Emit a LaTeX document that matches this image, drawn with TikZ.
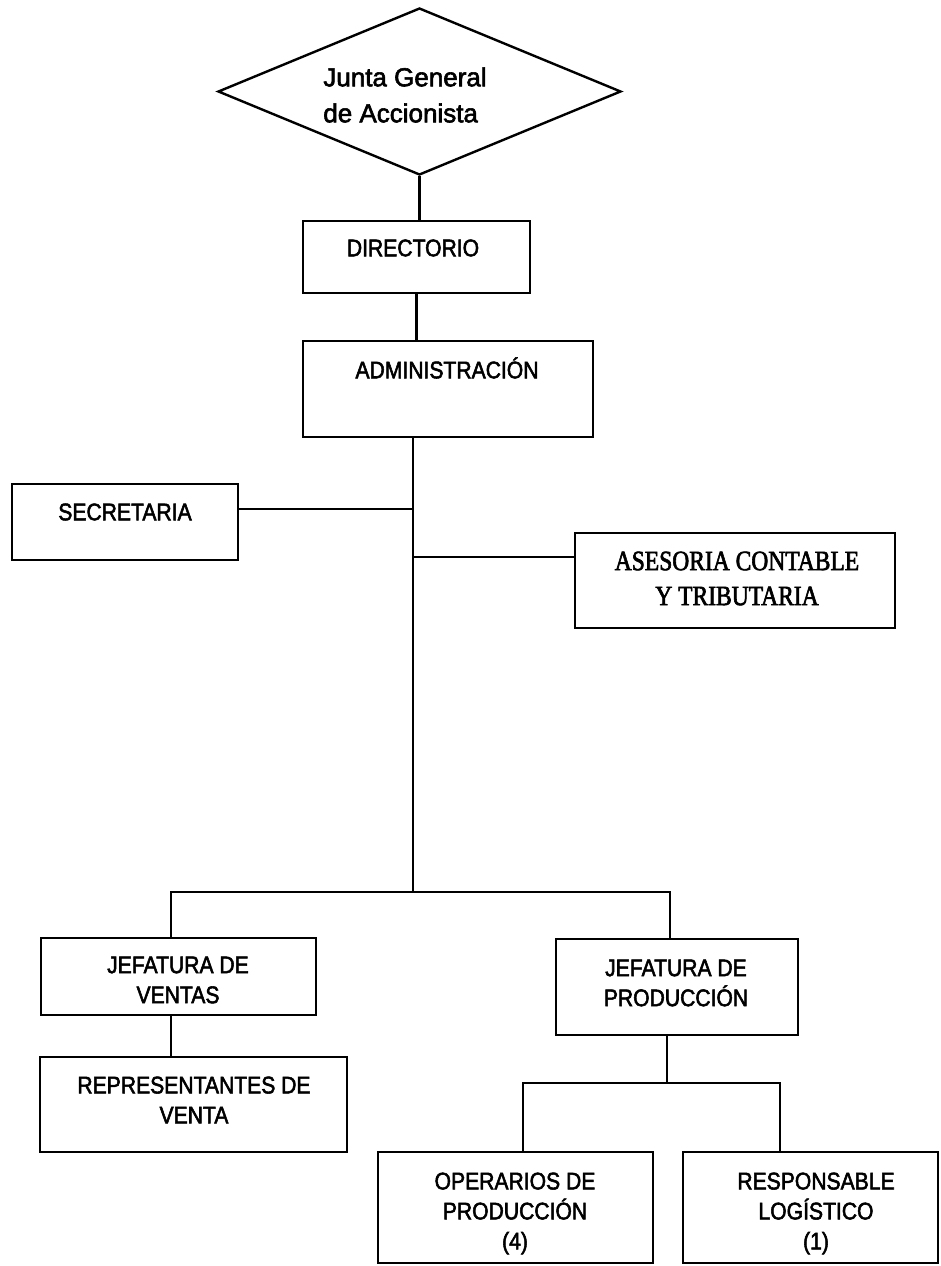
\documentclass[tikz,border=0pt]{standalone}
\usepackage{fontspec}
\setmainfont{Liberation Sans}
\newfontfamily\plainsans[RawFeature={embolden=2.2}]{Liberation Sans}
\newfontfamily\condsans[FakeStretch=0.88,RawFeature={embolden=2.2}]{Liberation Sans}
\newfontfamily\condserif[FakeStretch=0.84,RawFeature={embolden=2.2}]{Liberation Serif}
\usetikzlibrary{shapes.geometric}
\begin{document}
\begin{tikzpicture}[x=1pt,y=-1pt,
  box/.style={draw, line width=2.8pt, rectangle, inner sep=0pt},
  lbl/.style={font=\condsans\fontsize{24}{30}\selectfont, align=center, inner sep=0pt},
  conn/.style={line width=2.6pt}]
\useasboundingbox[fill=white] (0,0) rectangle (941,1266);

% shapes
\node[draw, diamond, line width=2.4pt, inner sep=0pt, minimum width=403pt, minimum height=167pt] (jga) at (419.5,91.5) {};
\node[box, minimum width=227pt, minimum height=72pt] (dir) at (416.5,257) {};
\node[box, minimum width=290pt, minimum height=96pt] (adm) at (448,389) {};
\node[box, minimum width=226pt, minimum height=76pt] (sec) at (125,522) {};
\node[box, minimum width=320pt, minimum height=95pt] (ase) at (735,580.5) {};
\node[box, minimum width=275pt, minimum height=77pt] (jv) at (178.5,976.5) {};
\node[box, minimum width=242pt, minimum height=96pt] (jp) at (677,987) {};
\node[box, minimum width=307pt, minimum height=95pt] (rep) at (193.5,1104.5) {};
\node[box, minimum width=275pt, minimum height=111pt] (op) at (515.5,1207.5) {};
\node[box, minimum width=255pt, minimum height=111pt] (rl) at (810.5,1207.5) {};

% texts
\node[font=\plainsans\fontsize{26}{36}\selectfont, align=left, inner sep=0pt] (tjga) at (405,95) {Junta General\\de Accionista};
\node[lbl] (tdir) at (413,248) {DIRECTORIO};
\node[lbl] (tadm) at (447,368) {ADMINISTRACIÓN};
\node[lbl] (tsec) at (125,512) {SECRETARIA};
\node[font=\condserif\fontsize{28}{35}\selectfont, align=center, inner sep=0pt] (tase) at (737,578.5) {ASESORIA CONTABLE\\Y TRIBUTARIA};
\node[lbl] (tjv) at (178,980) {JEFATURA DE\\VENTAS};
\node[lbl] (tjp) at (676,983) {JEFATURA DE\\PRODUCCIÓN};
\node[lbl] (trep) at (194,1100) {REPRESENTANTES DE\\VENTA};
\node[lbl, text depth=0pt] (top) at (515,1211) {OPERARIOS DE\\PRODUCCIÓN\\(4)};
\node[lbl, text depth=0pt] (trl) at (816,1211) {RESPONSABLE\\LOGÍSTICO\\(1)};

% junction coordinates
\coordinate (b1) at (413,892);
\coordinate (jsec) at (413,509);
\coordinate (jase) at (413,557);
\coordinate (bl) at (171,892);
\coordinate (br) at (670,892);
\coordinate (sb) at (667,1083);
\coordinate (sl) at (523,1083);
\coordinate (sr) at (780,1083);

% connectors
\draw[conn] (jga.south) -- (jga.south |- dir.north);
\draw[conn] (dir.south) -- (dir.south |- adm.north);
\draw[conn] (adm.south -| b1) -- (b1);
\draw[conn] (jsec -| sec.east) -- (jsec);
\draw[conn] (jase) -- (jase -| ase.west);
\draw[conn] (bl |- jv.north) -- (bl) -- (br) -- (br |- jp.north);
\draw[conn] (bl |- jv.south) -- (bl |- rep.north);
\draw[conn] (sb |- jp.south) -- (sb);
\draw[conn] (sl |- op.north) -- (sl) -- (sr) -- (sr |- rl.north);
\end{tikzpicture}
\end{document}
